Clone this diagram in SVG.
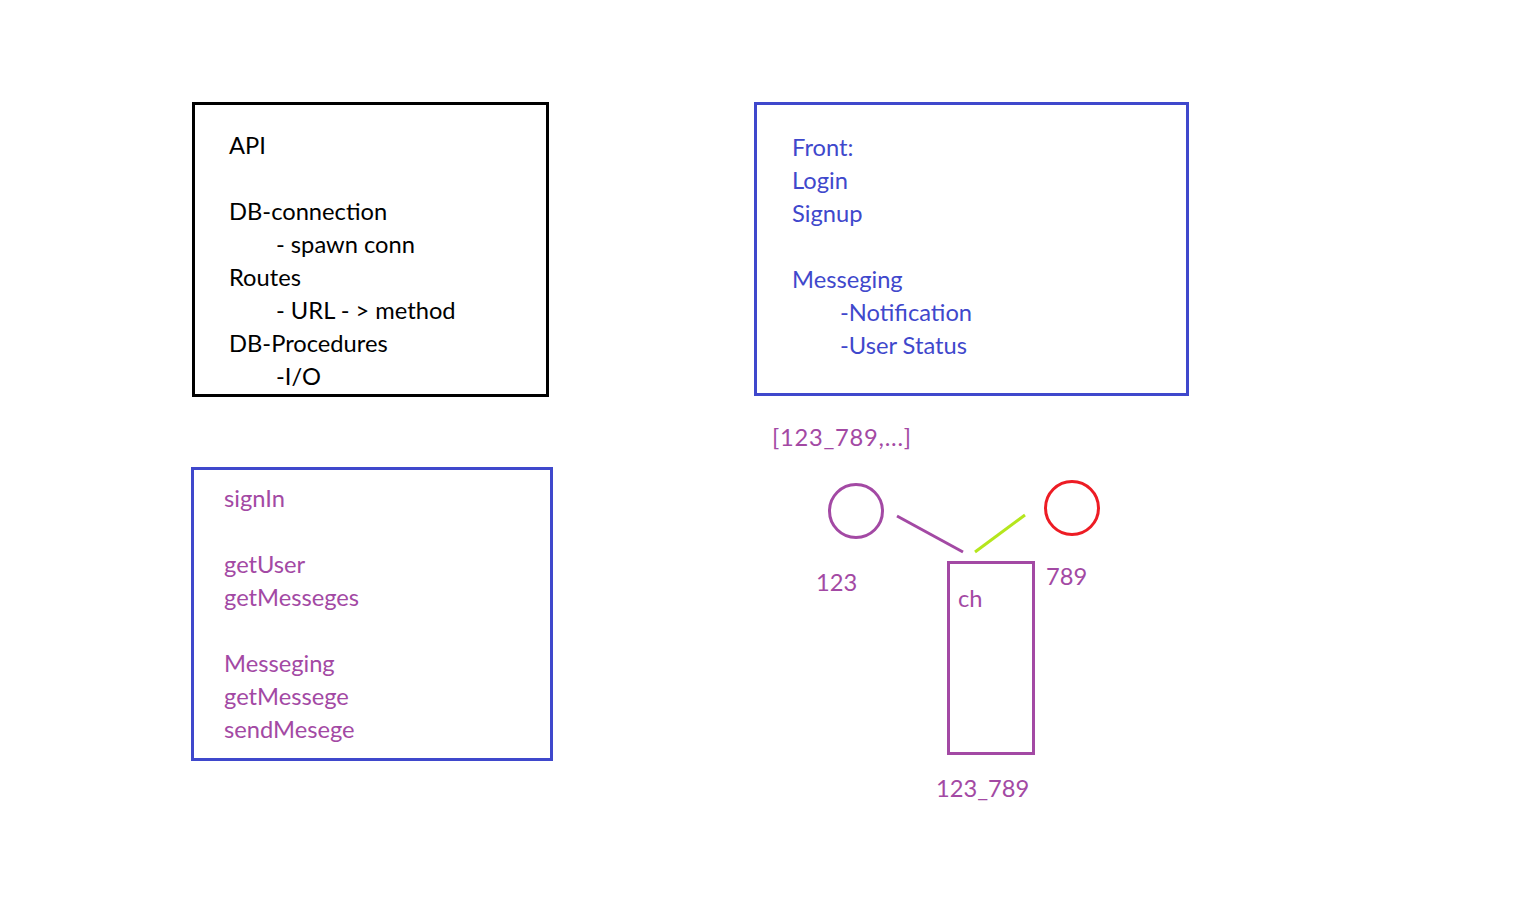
<svg xmlns="http://www.w3.org/2000/svg" width="1523" height="914" viewBox="0 0 1523 914">
<style>
text{font-family:Lato,"Open Sans","Liberation Sans",sans-serif;font-size:23.7px}
.k{fill:#000}
.b{fill:#3f48cc}
.p{fill:#a349a4}
.box{fill:none;stroke-width:3}
</style>
<rect width="1523" height="914" fill="#fff"/>
<g id="api">
<rect class="box" x="193.5" y="103.5" width="354" height="292" stroke="#000"/>
<text class="k" x="229" y="154">API</text>
<text class="k" x="229" y="220">DB-connection</text>
<text class="k" x="276" y="253">- spawn conn</text>
<text class="k" x="229" y="286">Routes</text>
<text class="k" x="276" y="319">- URL - &gt; method</text>
<text class="k" x="229" y="352">DB-Procedures</text>
<text class="k" x="276" y="385">-I/O</text>
</g>
<g id="front">
<rect class="box" x="755.5" y="103.5" width="432" height="291" stroke="#3f48cc"/>
<text class="b" x="792" y="156">Front:</text>
<text class="b" x="792" y="189">Login</text>
<text class="b" x="792" y="222">Signup</text>
<text class="b" x="792" y="288">Messeging</text>
<text class="b" x="840" y="321">-Notification</text>
<text class="b" x="840" y="354">-User Status</text>
</g>
<g id="procs">
<rect class="box" x="192.5" y="468.5" width="359" height="291" stroke="#3f48cc"/>
<text class="p" x="224" y="507">signIn</text>
<text class="p" x="224" y="573">getUser</text>
<text class="p" x="224" y="606">getMesseges</text>
<text class="p" x="224" y="672">Messeging</text>
<text class="p" x="224" y="705">getMessege</text>
<text class="p" x="224" y="738">sendMesege</text>
</g>
<g id="list">
<text class="p" x="772" y="446" textLength="139">[123_789,...]</text>
</g>
<g id="user123">
<circle cx="856" cy="511" r="26.5" fill="none" stroke="#a349a4" stroke-width="3"/>
<text class="p" x="816" y="591">123</text>
</g>
<g id="user789">
<circle cx="1072" cy="508" r="26.5" fill="none" stroke="#ed1c24" stroke-width="3"/>
<text class="p" x="1046" y="585">789</text>
</g>
<g id="channel">
<rect class="box" x="948.5" y="562.5" width="85" height="191" stroke="#a349a4"/>
<text class="p" x="958" y="607">ch</text>
<text class="p" x="936" y="797">123_789</text>
</g>
<g id="connectors">
<line x1="897" y1="516" x2="963" y2="552" stroke="#a349a4" stroke-width="3"/>
<line x1="975" y1="552" x2="1025" y2="515" stroke="#b5e61d" stroke-width="3"/>
</g>
</svg>
